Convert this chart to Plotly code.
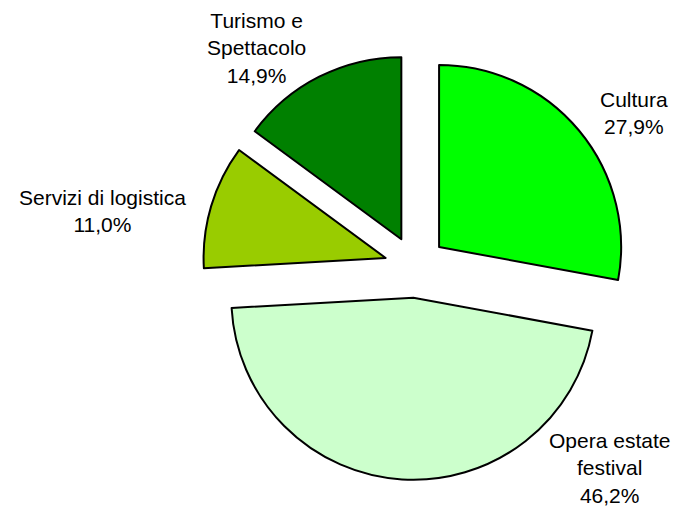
import plotly.graph_objects as go

# Quote per area di attività (valori percentuali)
categorie = ["Cultura", "Opera estate festival", "Servizi di logistica", "Turismo e Spettacolo"]
etichette = ["Cultura", "Opera estate<br>festival", "Servizi di logistica", "Turismo e<br>Spettacolo"]
valori = [27.9, 46.2, 11.0, 14.9]
colori = ["#00FF00", "#CCFFCC", "#99CC00", "#008000"]

# Posizioni delle etichette (coordinate paper)
pos_etichette = [(633.5 / 677, 1 - 113 / 507),
                 (609 / 677, 1 - 468 / 507),
                 (102 / 677, 1 - 211 / 507),
                 (256 / 677, 1 - 48 / 507)]

W, H = 677, 507
totale = sum(valori)

fig = go.Figure(go.Pie(
    labels=categorie,
    values=valori,
    sort=False,
    direction="clockwise",
    rotation=0,
    pull=[0.17] * len(valori),
    marker=dict(colors=colori, line=dict(color="black", width=2)),
    textinfo="none",
    hoverinfo="label+percent",
    showlegend=False,
    domain=dict(x=[202.3 / W, 628.3 / W], y=[1 - 479.8 / H, 1 - 53.8 / H]),
))

for et, v, (px, py) in zip(etichette, valori, pos_etichette):
    perc = f"{v / totale * 100:.1f}".replace(".", ",") + "%"
    fig.add_annotation(
        x=px, y=py, xref="paper", yref="paper",
        text=f"{et}<br>{perc}", showarrow=False,
        xanchor="center", yanchor="middle", align="center",
        font=dict(family="Liberation Sans, Arial, sans-serif", size=21, color="black"),
    )

fig.update_layout(
    width=W, height=H,
    margin=dict(l=0, r=0, t=0, b=0),
    paper_bgcolor="white",
    plot_bgcolor="white",
    separators=",.",
)

fig.write_html("out.html")
